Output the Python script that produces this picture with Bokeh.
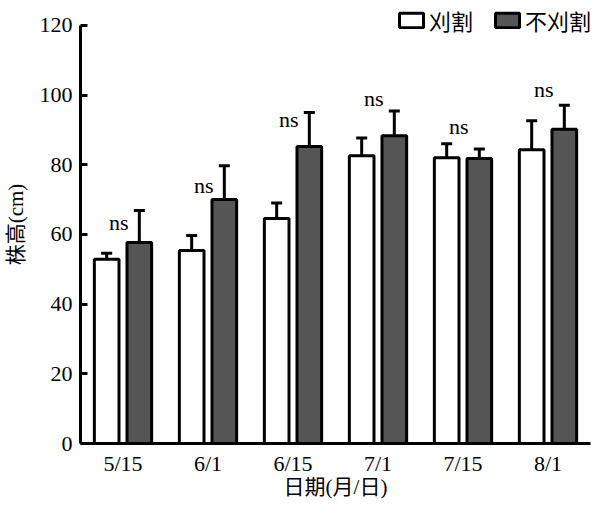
from bokeh.core.properties import value
from bokeh.embed import file_html
from bokeh.models import ColumnDataSource, Range1d, FixedTicker, Whisker, TeeHead
from bokeh.plotting import figure
from bokeh.resources import INLINE
from bokeh.transform import dodge

# dates (month/day)
dates = ["5/15", "6/1", "6/15", "7/1", "7/15", "8/1"]

# plant height (cm), mowed vs. not mowed, with upper error
cut = [52.9, 55.4, 64.6, 82.6, 82.0, 84.3]
cut_err = [1.7, 4.3, 4.4, 5.1, 4.0, 8.3]
uncut = [57.7, 70.0, 85.2, 88.3, 81.8, 90.2]
uncut_err = [9.2, 9.7, 9.8, 7.1, 2.7, 6.9]

# significance labels and their heights
sig = ["ns", "ns", "ns", "ns", "ns", "ns"]
sig_y = [63.4, 74.0, 93.0, 99.0, 91.0, 101.7]

SERIF = "Liberation Serif, Noto Sans CJK SC"
CJK = "Noto Sans CJK SC"

W, H = 591, 501
LEFT, RIGHT, TOP, BOTTOM = 75, 1, 5, 58
FW = W - LEFT - RIGHT
FH = H - TOP - BOTTOM

src = ColumnDataSource(dict(
    date=dates,
    cut=cut,
    cut_hi=[m + e for m, e in zip(cut, cut_err)],
    uncut=uncut,
    uncut_hi=[m + e for m, e in zip(uncut, uncut_err)],
    sig=sig,
    sig_y=sig_y,
))

p = figure(
    x_range=dates,
    y_range=Range1d(0, 125.7),
    width=W,
    height=H,
    output_backend="svg",
    toolbar_location=None,
    min_border_left=LEFT,
    min_border_right=RIGHT,
    min_border_top=TOP,
    min_border_bottom=BOTTOM,
)
p.x_range.range_padding = 0
p.outline_line_color = None
p.xgrid.visible = False
p.ygrid.visible = False

off = 0.192
bw = 0.29
p.vbar(x=dodge("date", -off, range=p.x_range), top="cut", width=bw, source=src,
       fill_color="white", line_color="black", line_width=3, legend_label="刈割")
p.vbar(x=dodge("date", off, range=p.x_range), top="uncut", width=bw, source=src,
       fill_color="#555555", line_color="black", line_width=3, legend_label="不刈割")

for shift, lo, hi in [(-off, "cut", "cut_hi"), (off, "uncut", "uncut_hi")]:
    w = Whisker(base=dodge("date", shift, range=p.x_range), lower=lo, upper=hi,
                source=src, line_width=3, line_color="black",
                upper_head=TeeHead(size=11, line_width=3, line_color="black"),
                lower_head=None)
    p.add_layout(w)

p.text(x=dodge("date", -0.05, range=p.x_range), y="sig_y", text="sig", source=src,
       text_font=value("Liberation Serif"), text_font_size="22px",
       text_align="center", text_baseline="middle", text_color="black")

# axes
p.yaxis.ticker = FixedTicker(ticks=[0, 20, 40, 60, 80, 100, 120])
p.yaxis.bounds = (0, 120)
p.yaxis.axis_label = "株高(cm)"
p.xaxis.axis_label = "日期(月/日)"
for ax in (p.xaxis, p.yaxis):
    ax.axis_line_width = 3
    ax.axis_line_color = "black"
    ax.major_tick_line_width = 3
    ax.major_tick_line_color = "black"
    ax.minor_tick_line_color = None
    ax.major_label_text_font = SERIF
    ax.major_label_text_font_size = "22px"
    ax.major_label_text_color = "black"
    ax.axis_label_text_font = SERIF
    ax.axis_label_text_font_size = "21px"
    ax.axis_label_text_font_style = "normal"
    ax.axis_label_text_color = "black"
p.yaxis.major_tick_in = 7
p.yaxis.major_tick_out = 0
p.yaxis.major_label_standoff = 8
p.yaxis.axis_label_standoff = 9
p.xaxis.major_tick_in = 0
p.xaxis.major_tick_out = 0
p.xaxis.major_label_standoff = 7
p.xaxis.axis_label_standoff = -4

p.legend.location = (316, FH - 31)
p.legend.orientation = "horizontal"
p.legend.background_fill_alpha = 0
p.legend.border_line_color = None
p.legend.glyph_width = 30
p.legend.glyph_height = 18
p.legend.label_text_font = CJK
p.legend.label_text_font_size = "22px"
p.legend.label_text_color = "black"
p.legend.spacing = 19
p.legend.label_standoff = 3
p.legend.padding = 0
p.legend.margin = 0

open("out.html", "w").write(file_html(p, INLINE))
